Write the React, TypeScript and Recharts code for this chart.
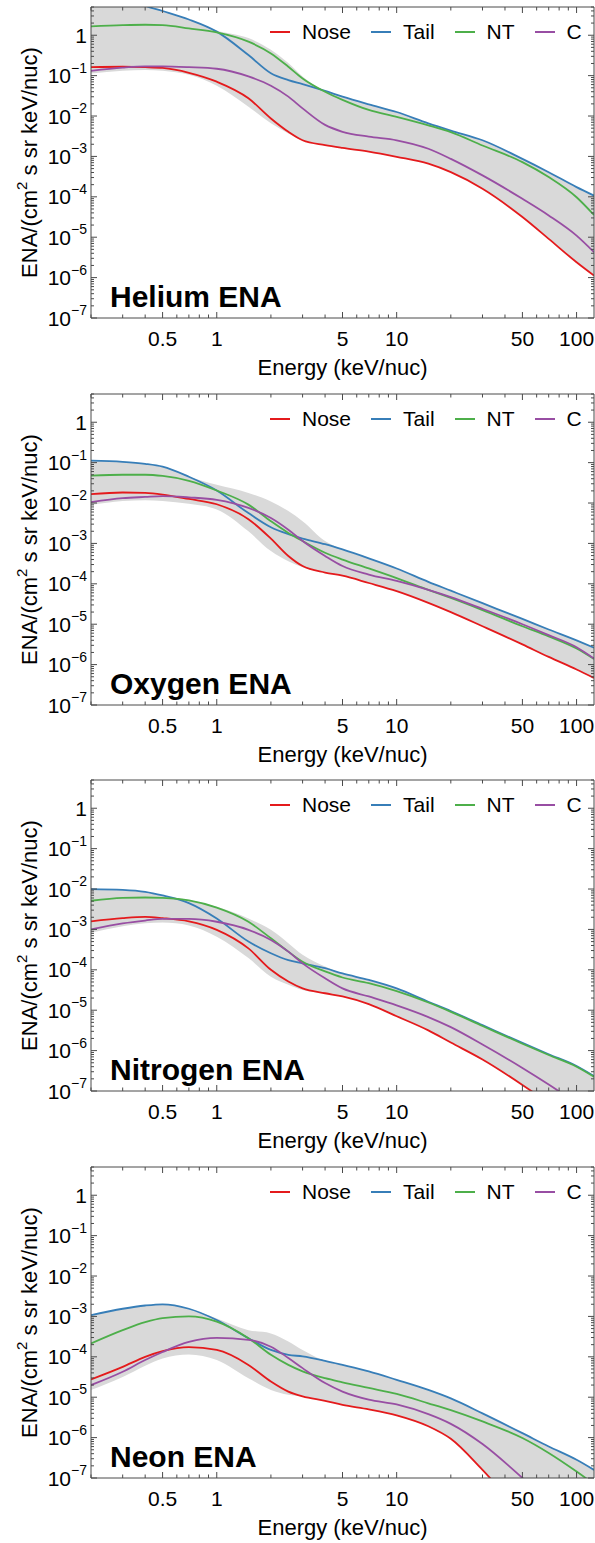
import React from 'react';
import { ComposedChart, Line, Area, XAxis, YAxis, Legend } from 'recharts';

const FONT = '"Liberation Sans", Arial, Helvetica, sans-serif';
const FRAME = '#4a4a4a';
const BAND = '#d9d9d9';

const W = 595;
const H = 387;
const PLOT_TOP = 7;
const PLOT_LEFT = 91;
const X_AXIS_H = 69;
const PLOT_H = H - PLOT_TOP - X_AXIS_H;
const PLOT_W = W - PLOT_LEFT - 1;

// energy grid (keV/nuc)
const ENERGY = [0.2, 0.3, 0.4, 0.5, 0.7, 1, 1.5, 2, 2.5, 3, 4, 5, 7, 10, 15, 20, 30, 50, 70, 100, 125];

// flux values as log10
const HE_NOSE = [-0.79, -0.78, -0.79, -0.81, -0.93, -1.15, -1.56, -2.06, -2.39, -2.6, -2.72, -2.79, -2.88, -3.01, -3.18, -3.39, -3.8, -4.5, -5.04, -5.62, -5.95];
const HE_TAIL = [1.3, 1.0, 0.73, 0.6, 0.39, 0.09, -0.49, -0.94, -1.11, -1.21, -1.38, -1.52, -1.71, -1.9, -2.18, -2.36, -2.6, -3.06, -3.39, -3.76, -3.97];
const HE_NT = [0.22, 0.25, 0.26, 0.25, 0.17, 0.07, -0.16, -0.45, -0.78, -1.07, -1.4, -1.6, -1.85, -2.02, -2.23, -2.4, -2.73, -3.14, -3.51, -4.01, -4.45];
const HE_C = [-0.88, -0.8, -0.77, -0.77, -0.79, -0.83, -1.02, -1.25, -1.52, -1.81, -2.22, -2.39, -2.51, -2.6, -2.81, -3.06, -3.47, -4.05, -4.46, -4.96, -5.37];
const HE_HI = [1.3, 1.0, 0.73, 0.6, 0.39, 0.12, -0.07, -0.36, -0.69, -1.02, -1.38, -1.52, -1.71, -1.9, -2.18, -2.36, -2.6, -3.06, -3.39, -3.76, -3.97];
const HE_LO = [-0.95, -0.88, -0.86, -0.88, -0.98, -1.25, -1.77, -2.18, -2.43, -2.6, -2.72, -2.79, -2.88, -3.01, -3.18, -3.39, -3.8, -4.5, -5.04, -5.62, -5.95];

const O_NOSE = [-1.78, -1.74, -1.75, -1.79, -1.9, -2.03, -2.4, -2.88, -3.31, -3.56, -3.72, -3.8, -3.98, -4.18, -4.47, -4.7, -5.05, -5.5, -5.81, -6.12, -6.33];
const O_TAIL = [-0.95, -0.98, -1.03, -1.1, -1.35, -1.69, -2.25, -2.6, -2.77, -2.88, -3.02, -3.15, -3.37, -3.62, -3.95, -4.17, -4.48, -4.87, -5.13, -5.4, -5.58];
const O_NT = [-1.32, -1.3, -1.3, -1.33, -1.45, -1.69, -2.04, -2.45, -2.74, -2.94, -3.23, -3.4, -3.62, -3.86, -4.15, -4.35, -4.65, -5.05, -5.3, -5.6, -5.86];
const O_C = [-1.98, -1.88, -1.85, -1.83, -1.86, -1.92, -2.12, -2.37, -2.66, -2.94, -3.31, -3.56, -3.77, -3.93, -4.15, -4.33, -4.62, -5.0, -5.27, -5.57, -5.85];
const O_HI = [-0.95, -0.98, -1.03, -1.1, -1.35, -1.55, -1.75, -1.96, -2.2, -2.45, -2.94, -3.15, -3.37, -3.62, -3.95, -4.17, -4.48, -4.87, -5.13, -5.4, -5.58];
const O_LO = [-2.05, -1.95, -1.93, -1.95, -2.02, -2.16, -2.7, -3.19, -3.44, -3.59, -3.72, -3.8, -3.98, -4.18, -4.47, -4.7, -5.05, -5.5, -5.81, -6.12, -6.33];

const N_NOSE = [-2.8, -2.72, -2.69, -2.72, -2.8, -3.01, -3.47, -4.0, -4.29, -4.46, -4.58, -4.66, -4.85, -5.15, -5.5, -5.8, -6.22, -6.85, -7.3, -7.8, -8.1];
const N_TAIL = [-2.0, -2.02, -2.07, -2.16, -2.35, -2.73, -3.3, -3.59, -3.76, -3.84, -3.96, -4.09, -4.25, -4.46, -4.79, -5.02, -5.37, -5.81, -6.09, -6.38, -6.63];
const N_NT = [-2.29, -2.22, -2.21, -2.22, -2.28, -2.46, -2.81, -3.22, -3.55, -3.8, -4.04, -4.19, -4.33, -4.53, -4.81, -5.04, -5.39, -5.83, -6.11, -6.4, -6.65];
const N_C = [-3.0, -2.85, -2.78, -2.74, -2.74, -2.81, -3.01, -3.26, -3.55, -3.84, -4.21, -4.46, -4.66, -4.88, -5.17, -5.42, -5.85, -6.43, -6.84, -7.3, -7.6];
const N_HI = [-2.0, -2.02, -2.07, -2.16, -2.27, -2.44, -2.73, -3.01, -3.34, -3.63, -3.92, -4.09, -4.25, -4.46, -4.79, -5.02, -5.37, -5.81, -6.09, -6.38, -6.63];
const N_LO = [-3.08, -2.92, -2.85, -2.83, -2.9, -3.18, -3.71, -4.17, -4.37, -4.5, -4.58, -4.66, -4.85, -5.15, -5.5, -5.8, -6.22, -6.85, -7.3, -7.8, -8.1];

const NE_NOSE = [-4.56, -4.25, -4.0, -3.86, -3.76, -3.83, -4.2, -4.61, -4.86, -4.98, -5.09, -5.19, -5.3, -5.45, -5.72, -6.03, -6.8, -7.9, -8.6, -9.4, -9.9];
const NE_TAIL = [-2.97, -2.81, -2.73, -2.7, -2.81, -3.09, -3.54, -3.83, -3.95, -3.99, -4.1, -4.2, -4.36, -4.57, -4.82, -5.03, -5.4, -5.89, -6.22, -6.55, -6.8];
const NE_NT = [-3.67, -3.34, -3.14, -3.04, -3.0, -3.13, -3.54, -3.95, -4.2, -4.36, -4.53, -4.63, -4.77, -4.92, -5.15, -5.32, -5.6, -6.01, -6.38, -6.84, -7.15];
const NE_C = [-4.7, -4.37, -4.08, -3.88, -3.63, -3.53, -3.58, -3.75, -4.03, -4.28, -4.65, -4.86, -5.06, -5.18, -5.42, -5.66, -6.16, -7.0, -7.6, -8.2, -8.6];
const NE_HI = [-2.97, -2.81, -2.73, -2.7, -2.81, -3.05, -3.34, -3.42, -3.62, -3.83, -4.1, -4.2, -4.36, -4.57, -4.82, -5.03, -5.4, -5.89, -6.22, -6.55, -6.8];
const NE_LO = [-4.82, -4.5, -4.22, -4.04, -3.94, -4.08, -4.53, -4.82, -4.94, -4.98, -5.09, -5.19, -5.3, -5.45, -5.72, -6.03, -6.8, -7.9, -8.6, -9.4, -9.9];

const X_LABELS = [0.5, 1, 5, 10, 50, 100];
const X_TICKS = [0.2, 0.3, 0.4, 0.5, 0.6, 0.7, 0.8, 0.9, 1, 2, 3, 4, 5, 6, 7, 8, 9, 10, 20, 30, 40, 50, 60, 70, 80, 90, 100];
const Y_EXPONENTS = [-7, -6, -5, -4, -3, -2, -1, 0];
const Y_MINOR = [2, 3, 4, 5, 6, 7, 8, 9];
const Y_TICKS = Y_EXPONENTS.flatMap((k) => [1, ...Y_MINOR].map((m) => m * Math.pow(10, k))).filter((v) => v <= 5);

const SERIES = [
  { key: 'nose', name: 'Nose', color: '#e41a1c' },
  { key: 'tail', name: 'Tail', color: '#377eb8' },
  { key: 'nt', name: 'NT', color: '#4daf4a' },
  { key: 'c', name: 'C', color: '#984ea3' },
];

const PANELS = [
  { title: 'Helium ENA', nose: HE_NOSE, tail: HE_TAIL, nt: HE_NT, c: HE_C, hi: HE_HI, lo: HE_LO },
  { title: 'Oxygen ENA', nose: O_NOSE, tail: O_TAIL, nt: O_NT, c: O_C, hi: O_HI, lo: O_LO },
  { title: 'Nitrogen ENA', nose: N_NOSE, tail: N_TAIL, nt: N_NT, c: N_C, hi: N_HI, lo: N_LO },
  { title: 'Neon ENA', nose: NE_NOSE, tail: NE_TAIL, nt: NE_NT, c: NE_C, hi: NE_HI, lo: NE_LO },
];

const PANEL_TOPS = [0, 387, 773, 1160];

function XTick(props: any) {
  const { x, y, payload, side } = props;
  const v = payload.value as number;
  const major = X_LABELS.includes(v);
  const len = major ? 6 : 3.5;
  const dir = side === 'top' ? 1 : -1;
  return (
    <g>
      <line x1={x} x2={x} y1={y} y2={y + dir * len} stroke={FRAME} strokeWidth={1} />
      {side !== 'top' && major && (
        <text x={x} y={y + 20} textAnchor="middle" dominantBaseline="central" fontSize={21} fontFamily={FONT} fill="#000">
          {String(v)}
        </text>
      )}
    </g>
  );
}

function YTick(props: any) {
  const { x, y, payload, side } = props;
  const v = payload.value as number;
  const e = Math.log10(v);
  const k = Math.round(e);
  const major = Math.abs(e - k) < 1e-6;
  const len = major ? 6 : 3;
  const dir = side === 'right' ? -1 : 1;
  return (
    <g>
      <line x1={x} x2={x + dir * len} y1={y} y2={y} stroke={FRAME} strokeWidth={1} />
      {side !== 'right' && major && (
        <text x={x - 4} y={y} textAnchor="end" dominantBaseline="central" fontSize={21} fontFamily={FONT} fill="#000">
          {k === 0 ? '1' : '10'}
          {k !== 0 && (
            <tspan dy={-8} fontSize={14}>
              {'\u2212' + String(-k)}
            </tspan>
          )}
        </text>
      )}
    </g>
  );
}

function XTitle() {
  return (
    <text x={PLOT_LEFT + PLOT_W / 2} y={PLOT_TOP + PLOT_H + 49} textAnchor="middle" dominantBaseline="central" fontSize={22} fontFamily={FONT} fill="#000">
      Energy (keV/nuc)
    </text>
  );
}

function YTitle() {
  const cx = 29;
  const cy = PLOT_TOP + PLOT_H / 2;
  return (
    <text x={cx} y={cy} transform={`rotate(-90 ${cx} ${cy})`} textAnchor="middle" dominantBaseline="central" fontSize={22} fontFamily={FONT} fill="#000">
      ENA/(cm
      <tspan dy={-8} fontSize={15}>2</tspan>
      <tspan dy={8}> s sr keV/nuc)</tspan>
    </text>
  );
}

function PanelName({ text }: { text: string }) {
  return (
    <text x={110} y={PLOT_TOP + PLOT_H - 11} fontSize={30} fontWeight="bold" fontFamily={FONT} fill="#000">
      {text}
    </text>
  );
}

const renderLegend = () => (
  <div style={{ display: 'flex', alignItems: 'center', fontFamily: FONT, fontSize: 21, lineHeight: '24px', color: '#000', whiteSpace: 'nowrap' }}>
    {SERIES.map((s) => (
      <div key={s.key} style={{ display: 'flex', alignItems: 'center', marginRight: 20 }}>
        <svg width={20} height={4} style={{ marginRight: 12 }}>
          <line x1={0} x2={20} y1={2} y2={2} stroke={s.color} strokeWidth={2} />
        </svg>
        <span>{s.name}</span>
      </div>
    ))}
  </div>
);

function Panel({ panel }: { panel: (typeof PANELS)[number] }) {
  const data = ENERGY.map((e, i) => ({
    e,
    nose: Math.pow(10, panel.nose[i]),
    tail: Math.pow(10, panel.tail[i]),
    nt: Math.pow(10, panel.nt[i]),
    c: Math.pow(10, panel.c[i]),
    band: [Math.pow(10, panel.lo[i]), Math.pow(10, panel.hi[i])],
  }));
  return (
    <ComposedChart width={W} height={H} data={data} margin={{ top: PLOT_TOP - 1, right: 0, bottom: 0, left: 0 }}>
      <XAxis
        xAxisId="b"
        dataKey="e"
        type="number"
        scale="log"
        domain={[0.2, 125]}
        allowDataOverflow
        ticks={X_TICKS}
        interval={0}
        tickSize={0}
        tickMargin={0}
        tickLine={false}
        tick={<XTick side="bottom" />}
        axisLine={{ stroke: FRAME }}
        height={X_AXIS_H}
        label={<XTitle />}
      />
      <XAxis
        xAxisId="t"
        orientation="top"
        dataKey="e"
        type="number"
        scale="log"
        domain={[0.2, 125]}
        allowDataOverflow
        ticks={X_TICKS}
        interval={0}
        tickSize={0}
        tickMargin={0}
        tickLine={false}
        tick={<XTick side="top" />}
        axisLine={{ stroke: FRAME }}
        height={1}
        label={<PanelName text={panel.title} />}
      />
      <YAxis
        yAxisId="l"
        type="number"
        scale="log"
        domain={[1e-7, 5]}
        allowDataOverflow
        ticks={Y_TICKS}
        interval={0}
        tickSize={0}
        tickMargin={0}
        tickLine={false}
        tick={<YTick side="left" />}
        axisLine={{ stroke: FRAME }}
        width={PLOT_LEFT}
        label={<YTitle />}
      />
      <YAxis
        yAxisId="r"
        orientation="right"
        type="number"
        scale="log"
        domain={[1e-7, 5]}
        allowDataOverflow
        ticks={Y_TICKS}
        interval={0}
        tickSize={0}
        tickMargin={0}
        tickLine={false}
        tick={<YTick side="right" />}
        axisLine={{ stroke: FRAME }}
        width={1}
      />
      <Area
        xAxisId="b"
        yAxisId="l"
        type="monotone"
        dataKey="band"
        stroke="none"
        fill={BAND}
        fillOpacity={1}
        isAnimationActive={false}
        legendType="none"
        activeDot={false}
      />
      {SERIES.map((s) => (
        <Line
          key={s.key}
          xAxisId="b"
          yAxisId="l"
          type="monotone"
          dataKey={s.key}
          name={s.name}
          stroke={s.color}
          strokeWidth={1.8}
          dot={false}
          activeDot={false}
          isAnimationActive={false}
        />
      ))}
      <Legend
        layout="vertical"
        verticalAlign="middle"
        align="center"
        wrapperStyle={{ top: PLOT_TOP + 13, left: 270, width: 330 }}
        content={renderLegend}
      />
    </ComposedChart>
  );
}

export default function App() {
  return (
    <div style={{ position: 'absolute', left: 0, top: 0, width: W, height: 1543, background: '#fff', overflow: 'hidden' }}>
      {PANELS.map((p, i) => (
        <div key={p.title} style={{ position: 'absolute', left: 0, top: PANEL_TOPS[i] }}>
          <Panel panel={p} />
        </div>
      ))}
    </div>
  );
}
